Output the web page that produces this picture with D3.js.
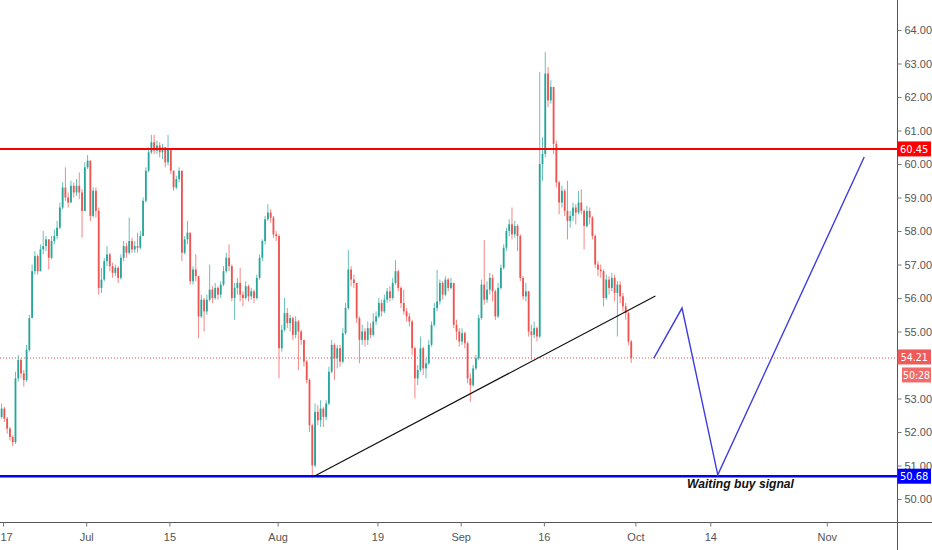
<!DOCTYPE html>
<html>
<head>
<meta charset="utf-8">
<script src="https://cdn.jsdelivr.net/npm/d3@7"></script>
<style>
  body { margin: 0; background: #fff; }
  svg { display: block; font-family: "Liberation Sans Narrow", "DejaVu Sans Condensed", "Liberation Sans", sans-serif; }
</style>
</head>
<body>
<div id="chart"></div>
<script>
// price bars (roughly 3 per trading day, starting on Jun 17)
const firstOpen = 52.45;
const closes = [
  52.70, 52.40, 52.10, 51.85, 51.70, 53.60, 54.15, 53.75, 53.55, 54.45,
  55.40, 56.80, 57.25, 56.80, 57.45, 57.55, 57.75, 57.20, 57.70, 57.85,
  58.10, 58.70, 59.30, 59.00, 58.85, 59.35, 59.15, 59.35, 59.15, 58.60,
  59.90, 60.10, 58.45, 59.20, 58.60, 56.30, 56.55, 57.10, 57.30, 56.95,
  56.75, 56.90, 56.60, 57.20, 57.55, 57.35, 57.70, 57.45, 57.55, 57.50,
  57.85, 58.90, 59.80, 60.35, 60.65, 60.40, 60.55, 60.35, 60.50, 60.05,
  60.45, 59.80, 59.30, 59.55, 59.80, 57.35, 57.75, 57.95, 56.50, 56.85,
  56.65, 55.45, 55.95, 55.60, 55.95, 56.25, 56.00, 56.30, 56.10, 56.40,
  56.80, 57.20, 56.95, 56.00, 56.30, 56.45, 56.10, 56.00, 56.35, 56.05,
  56.20, 56.00, 56.60, 57.20, 57.70, 58.35, 58.55, 58.40, 57.90, 57.85,
  54.50, 55.05, 55.55, 55.25, 55.40, 54.90, 55.30, 55.00, 54.75, 54.10,
  53.55, 52.20, 51.00, 52.60, 52.35, 52.70, 52.45, 52.85, 53.80, 54.60,
  54.20, 54.50, 54.10, 54.95, 55.70, 56.85, 56.55, 56.45, 55.40, 54.75,
  55.00, 54.75, 55.10, 54.90, 55.30, 55.45, 55.85, 55.60, 55.95, 56.20,
  56.00, 56.45, 56.80, 56.30, 55.85, 55.60, 55.45, 55.30, 54.50, 53.60,
  53.85, 54.50, 53.90, 54.05, 54.60, 55.20, 55.70, 55.90, 56.45, 56.10,
  56.55, 56.30, 56.45, 55.20, 55.00, 54.70, 54.95, 54.65, 53.60, 53.40,
  53.90, 54.20, 55.40, 56.40, 55.95, 56.25, 56.60, 56.20, 55.45, 56.30,
  56.90, 57.50, 58.00, 58.20, 57.90, 58.15, 57.85, 56.60, 56.05, 56.20,
  55.00, 54.90, 55.10, 54.85, 60.00, 60.30, 62.70, 61.90, 62.30, 60.60,
  59.45, 58.85, 59.20, 58.60, 58.30, 58.45, 58.70, 58.55, 58.85, 58.60,
  58.15, 58.60, 58.40, 57.85, 57.00, 56.85, 56.80, 56.00, 56.55, 56.30,
  56.60, 56.15, 56.40, 56.05, 55.75, 55.55, 54.70, 54.21
];
const highs = [
  52.85, 52.75, 52.45, 52.15, 51.90, 53.80, 54.30, 54.20, 53.85, 54.60,
  55.50, 57.00, 57.40, 57.30, 57.60, 58.00, 57.85, 57.75, 57.85, 58.05,
  58.30, 58.85, 59.45, 59.90, 59.15, 59.50, 59.45, 59.55, 59.75, 59.25,
  60.05, 60.27, 60.10, 59.30, 59.30, 58.70, 56.90, 57.20, 57.55, 57.35,
  57.05, 57.00, 56.95, 57.30, 57.70, 57.65, 58.40, 57.80, 57.70, 57.95,
  58.00, 59.00, 59.90, 60.50, 60.87, 60.87, 60.70, 60.65, 60.60, 60.50,
  60.87, 60.45, 59.80, 59.65, 59.90, 59.80, 57.85, 58.30, 57.95, 56.95,
  57.30, 56.65, 56.10, 56.00, 56.10, 57.00, 56.35, 56.45, 56.35, 56.50,
  56.95, 57.35, 57.60, 57.00, 56.45, 56.60, 56.90, 56.20, 56.50, 56.40,
  56.30, 56.25, 56.70, 57.30, 57.75, 58.45, 58.80, 58.65, 58.45, 58.00,
  57.90, 55.20, 56.00, 55.70, 55.50, 55.45, 55.45, 55.35, 55.05, 54.75,
  54.15, 53.60, 52.25, 52.85, 52.80, 52.95, 52.75, 52.95, 53.95, 54.75,
  54.65, 54.60, 54.60, 55.10, 55.85, 57.43, 56.95, 56.70, 56.45, 55.45,
  55.20, 55.10, 55.30, 55.25, 55.55, 55.60, 56.00, 55.95, 56.10, 56.30,
  56.35, 56.60, 57.13, 56.85, 56.35, 56.25, 55.70, 55.55, 55.35, 54.55,
  54.00, 54.85, 54.55, 54.20, 54.75, 55.30, 55.85, 56.84, 56.55, 56.50,
  56.65, 56.60, 56.60, 56.45, 55.35, 55.10, 55.10, 55.00, 54.70, 53.75,
  54.00, 54.30, 55.50, 56.55, 57.73, 56.50, 56.75, 56.70, 56.25, 56.45,
  57.00, 57.60, 58.10, 58.35, 58.70, 58.30, 58.20, 57.90, 56.65, 56.45,
  56.20, 55.20, 55.30, 55.15, 62.75, 60.80, 63.34, 62.90, 62.50, 62.30,
  60.70, 59.50, 59.35, 59.25, 59.50, 58.60, 58.85, 58.80, 59.20, 59.25,
  58.65, 58.75, 58.70, 58.45, 57.90, 57.10, 57.00, 56.85, 56.70, 56.65,
  56.75, 56.70, 56.50, 56.50, 56.15, 55.85, 55.60, 54.75
];
const lows = [
  52.40, 52.30, 51.95, 51.75, 51.58, 51.65, 53.50, 53.60, 53.35, 53.50,
  54.40, 55.40, 56.70, 56.70, 56.80, 57.30, 57.40, 56.85, 57.15, 57.60,
  57.75, 58.05, 58.65, 58.90, 58.70, 58.85, 59.00, 59.05, 58.95, 57.80,
  58.60, 59.85, 58.30, 58.40, 58.40, 56.10, 56.15, 56.50, 56.95, 56.80,
  56.60, 56.65, 56.45, 56.55, 57.10, 57.20, 57.30, 57.35, 57.35, 57.35,
  57.45, 57.85, 58.85, 59.75, 60.30, 60.30, 60.30, 60.20, 60.15, 59.90,
  59.95, 59.70, 59.20, 59.25, 59.45, 57.10, 57.30, 57.60, 56.40, 56.40,
  56.50, 54.80, 55.40, 55.00, 55.50, 55.90, 55.85, 55.95, 55.95, 56.00,
  56.35, 56.75, 56.80, 55.90, 55.35, 56.10, 55.90, 55.75, 55.95, 55.90,
  55.95, 55.85, 55.95, 56.55, 57.10, 57.60, 58.30, 58.25, 57.80, 57.70,
  53.60, 54.40, 55.00, 55.10, 55.00, 54.75, 54.80, 53.85, 54.60, 53.95,
  53.45, 52.00, 50.63, 50.95, 52.20, 52.15, 52.15, 52.35, 52.80, 53.75,
  53.55, 53.90, 53.95, 54.05, 54.90, 55.65, 56.35, 56.30, 55.25, 54.05,
  54.60, 54.55, 54.60, 54.80, 54.85, 55.20, 55.40, 55.45, 55.55, 55.85,
  55.90, 55.95, 56.40, 56.20, 55.70, 55.50, 55.30, 55.15, 54.30, 53.00,
  53.40, 53.80, 53.70, 53.60, 54.00, 54.55, 55.15, 55.60, 55.80, 55.95,
  56.05, 56.20, 56.25, 55.10, 54.75, 54.55, 54.60, 54.50, 53.45, 52.90,
  53.35, 53.85, 54.15, 55.35, 55.80, 55.85, 56.10, 55.90, 55.34, 55.40,
  56.25, 56.85, 57.40, 57.85, 57.75, 57.80, 57.40, 56.50, 55.95, 55.90,
  54.85, 54.15, 54.80, 54.70, 54.80, 59.50, 60.20, 61.70, 61.80, 60.30,
  59.30, 58.50, 58.70, 58.45, 57.75, 58.10, 58.30, 58.20, 58.50, 58.50,
  57.45, 58.10, 58.20, 57.75, 56.90, 56.65, 56.60, 55.75, 55.95, 56.10,
  56.20, 55.90, 54.85, 55.85, 55.60, 55.35, 54.60, 54.06
];

// axes (54.00 sits under the live price tags, so it is not labelled)
const priceTicks = [50, 51, 52, 53, 55, 56, 57, 58, 59, 60, 61, 62, 63, 64];
const dayTicks = [0, 10, 20, 33, 45, 55, 65, 76, 85, 99];   // trading days since Jun 17
const dayLabels = ["17", "Jul", "15", "Aug", "19", "Sep", "16", "Oct", "14", "Nov"];

// drawings
const resistance = 60.45;
const support = 50.68;
const lastPrice = 54.21;
const countdown = "50:28";
const trendDays = [37.4, 78.4];
const trendPrices = [50.68, 56.06];
const pathDays = [78.2, 81.6, 85.9, 103.5];
const pathPrices = [54.20, 55.70, 50.72, 60.21];
const noteText = "Waiting buy signal";

const width = 932, height = 550;
const axisX = 897.5, axisY = 522.5;
const upColor = "#26a69a", downColor = "#ef5350";

const svg = d3.select("#chart").append("svg")
    .attr("width", width)
    .attr("height", height);

const x = d3.scaleLinear().domain([0, 99]).range([3, 826.8]);
const y = d3.scaleLinear().domain([50, 64]).range([499, 30]);

const bars = closes.map((c, j) => ({
    t: (j - 0.5) / 3,
    o: j === 0 ? firstOpen : closes[j - 1],
    h: highs[j],
    l: lows[j],
    c: c
}));

const plot = svg.append("g");
plot.append("clipPath").attr("id", "clip")
  .append("rect").attr("width", axisX).attr("height", axisY);
const g = plot.append("g").attr("clip-path", "url(#clip)");

// dotted last price line
g.append("line")
    .attr("x1", 0).attr("x2", axisX)
    .attr("y1", y(lastPrice)).attr("y2", y(lastPrice))
    .attr("stroke", "#ef5350").attr("stroke-width", 1)
    .attr("stroke-dasharray", "1,2");

// candles
const candle = g.selectAll(".bar").data(bars).enter().append("g").attr("class", "bar");
candle.append("line")
    .attr("x1", d => x(d.t)).attr("x2", d => x(d.t))
    .attr("y1", d => y(d.h)).attr("y2", d => y(d.l))
    .attr("stroke", d => d.c >= d.o ? upColor : downColor)
    .attr("stroke-opacity", 0.7)
    .attr("stroke-width", 1);
candle.append("rect")
    .attr("x", d => x(d.t) - 0.9)
    .attr("width", 1.8)
    .attr("y", d => y(Math.max(d.o, d.c)))
    .attr("height", d => Math.max(0.8, Math.abs(y(d.o) - y(d.c))))
    .attr("fill", d => d.c >= d.o ? upColor : downColor);

// horizontal levels
g.append("line")
    .attr("x1", 0).attr("x2", axisX)
    .attr("y1", y(resistance)).attr("y2", y(resistance))
    .attr("stroke", "#ff0000").attr("stroke-width", 2);
g.append("line")
    .attr("x1", 0).attr("x2", axisX)
    .attr("y1", y(support)).attr("y2", y(support))
    .attr("stroke", "#0000ff").attr("stroke-width", 2.5);

// trend line
g.append("line")
    .attr("x1", x(trendDays[0])).attr("y1", y(trendPrices[0]))
    .attr("x2", x(trendDays[1])).attr("y2", y(trendPrices[1]))
    .attr("stroke", "#111").attr("stroke-width", 1.2);

// projected path
g.append("path")
    .datum(pathDays.map((d, i) => [d, pathPrices[i]]))
    .attr("d", d3.line().x(d => x(d[0])).y(d => y(d[1])))
    .attr("fill", "none")
    .attr("stroke", "#3d3de0")
    .attr("stroke-width", 1.4);

g.append("text")
    .attr("x", 687).attr("y", 488)
    .attr("font-family", "'Liberation Sans', Arial, sans-serif")
    .attr("font-weight", "bold")
    .attr("font-style", "italic")
    .attr("font-size", 13)
    .attr("textLength", 107)
    .attr("lengthAdjust", "spacingAndGlyphs")
    .attr("fill", "#111")
    .text(noteText);

// axis lines
svg.append("line")
    .attr("x1", axisX).attr("x2", axisX).attr("y1", 0).attr("y2", height)
    .attr("stroke", "#555").attr("stroke-width", 1);
svg.append("line")
    .attr("x1", 0).attr("x2", width).attr("y1", axisY).attr("y2", axisY)
    .attr("stroke", "#555").attr("stroke-width", 1);

const yAxis = svg.append("g")
    .attr("transform", `translate(${axisX},0)`)
    .call(d3.axisRight(y).tickValues(priceTicks).tickFormat(d3.format(".2f")).tickSize(4).tickPadding(3));
yAxis.select(".domain").remove();
yAxis.selectAll("line").attr("stroke", "#777");
yAxis.selectAll("text").attr("fill", "#555").attr("font-size", 11).attr("font-family", null);

const xAxis = svg.append("g")
    .attr("transform", `translate(0,${axisY})`)
    .call(d3.axisBottom(x).tickValues(dayTicks).tickFormat((d, i) => dayLabels[i]).tickSize(4).tickPadding(7));
xAxis.select(".domain").remove();
xAxis.selectAll("line").attr("stroke", "#777");
xAxis.selectAll("text").attr("fill", "#555").attr("font-size", 11).attr("font-family", null);
// first label sits on the left edge; keep it fully inside
xAxis.selectAll("text").filter((d, i) => i === 0)
    .attr("text-anchor", "start").attr("x", -3);

// price tags on the axis
function tag(v, fill, label, x0, dy, fs) {
    const yy = y(v) + (dy || 0);
    svg.append("rect")
        .attr("x", x0).attr("y", yy - 7.5)
        .attr("width", width - x0 - 1).attr("height", 15)
        .attr("fill", fill);
    svg.append("text")
        .attr("x", (x0 + width - 1) / 2).attr("y", yy)
        .attr("dy", "0.35em")
        .attr("text-anchor", "middle")
        .attr("fill", "#fff")
        .attr("font-size", fs || 11)
        .text(label);
}
tag(resistance, "#ff0000", d3.format(".2f")(resistance), axisX, 0);
tag(support, "#0000ff", d3.format(".2f")(support), axisX, 0);
tag(lastPrice, "#ef5a5a", d3.format(".2f")(lastPrice), axisX, -1, 10.5);
tag(lastPrice, "#f26b6b", countdown, 902, 17, 10.5);
</script>
</body>
</html>
